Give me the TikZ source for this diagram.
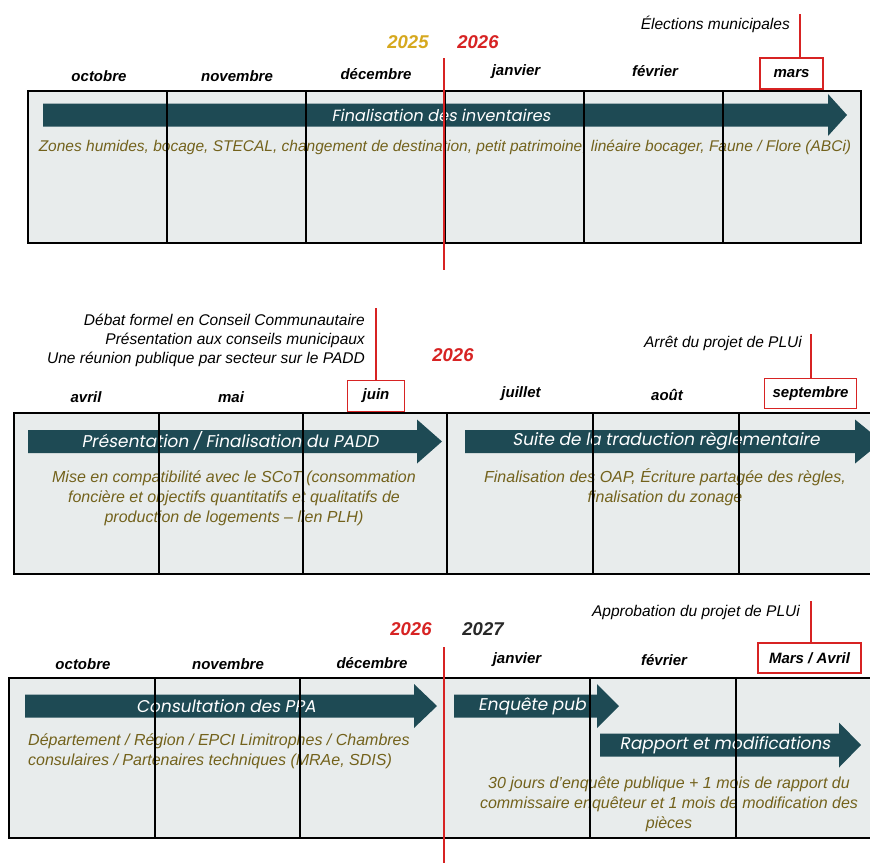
\documentclass[tikz,border=0pt]{standalone}
\usepackage{fontspec}
\setmainfont{Liberation Sans}
\newfontfamily\popfont[FakeSlant=0.18]{Poppins}
\definecolor{tealA}{RGB}{30,74,84}
\definecolor{boxfill}{RGB}{232,236,236}
\definecolor{olivetext}{RGB}{115,98,28}
\definecolor{redA}{RGB}{215,35,35}
\definecolor{goldA}{RGB}{214,168,30}
\definecolor{darkA}{RGB}{40,40,40}
\newcommand\tlarrow[6]{%
  \fill[tealA] ({#1},{#4-#5}) -- ({#2},{#4-#5}) -- ({#2},{#4-#6}) -- ({#3},{#4}) --
    ({#2},{#4+#6}) -- ({#2},{#4+#5}) -- ({#1},{#4+#5}) -- cycle;}
\tikzset{
  month/.style={font=\fontsize{15}{18}\selectfont\bfseries\itshape, inner sep=0pt},
  hlbox/.style={draw=redA, line width=1.6pt, minimum height=30pt, inner sep=0pt},
  note/.style={font=\fontsize{15.5}{19}\selectfont\itshape, inner sep=0pt, anchor=east},
  desc/.style={font=\fontsize{16}{20}\selectfont\itshape, text=olivetext, inner sep=0pt, align=center},
  alabel/.style={font=\popfont\fontsize{17}{19}\selectfont, text=white, inner sep=0pt},
  yearlbl/.style={font=\fontsize{18.5}{20}\selectfont\bfseries\itshape, inner sep=0pt},
  frame/.style={fill=boxfill, draw=black, line width=1.6pt},
  divider/.style={draw=black, line width=1.2pt},
  redline/.style={draw=redA, line width=2.8pt},
  markline/.style={draw=redA, line width=1.8pt}
}
\begin{document}
\begin{tikzpicture}[x=1pt,y=-1pt]
\useasboundingbox (0,0) rectangle (870,863);
\clip (0,0) rectangle (870,863);
\fill[white] (0,0) rectangle (870,863);

% ===================== Section 1 =====================
\draw[frame] (28,91) rectangle (861,243);
\tlarrow{43}{828}{847}{115}{11.5}{21}
\node[alabel, font=\popfont\fontsize{16.2}{19}\selectfont] (a1) at (441,115) {Finalisation des inventaires};
\node[desc, font=\fontsize{15.5}{19}\selectfont\itshape] (d1) at (445,147) {Zones humides, bocage, STECAL, changement de destination, petit patrimoine, linéaire bocager, Faune / Flore (ABCi)};
\foreach \xx in {167,306,445,584,723} \draw[divider] (\xx,91) -- (\xx,243);

\node[yearlbl, text=goldA] (y1a) at (408,42) {2025};
\node[yearlbl, text=redA] (y1b) at (478,42) {2026};
\node[month] (m1a) at (99,76) {octobre};
\node[month] (m1b) at (237,76) {novembre};
\node[month] (m1c) at (376,74) {décembre};
\node[month] (m1d) at (516,72) {janvier};
\node[month] (m1e) at (655,71) {février};
\node[month, hlbox, minimum width=63pt, minimum height=31pt] (m1f) at (791.5,73.5) {mars};
\node[note] (n1) at (790,24) {Élections municipales};
\coordinate (c1) at (800,14);
\draw[markline] (c1) -- (m1f.north -| c1);
\coordinate (r1t) at (444,58);
\coordinate (r1b) at (444,270);
\draw[redline] (r1t) -- (r1b);

% ===================== Section 2 =====================
\draw[frame] (14,413) rectangle (884,574);
\tlarrow{28}{417}{442}{441.5}{11.5}{22}
\tlarrow{465}{855}{882}{441.5}{11.5}{22}
\node[alabel] (a2a) at (230,441) {Présentation / Finalisation du PADD};
\node[alabel] (a2b) at (666,441) {Suite de la traduction règlementaire};
\node[desc] (d2a) at (234,498) {Mise en compatibilité avec le SCoT (consommation\\foncière et objectifs quantitatifs et qualitatifs de\\production de logements – lien PLH)};
\node[desc] (d2b) at (665,487) {Finalisation des OAP, Écriture partagée des règles,\\finalisation du zonage};
\foreach \xx in {159,303,447,593,739} \draw[divider] (\xx,413) -- (\xx,574);

\node[note] (n2a) at (365,320) {Débat formel en Conseil Communautaire};
\node[note] (n2b) at (365,340) {Présentation aux conseils municipaux};
\node[note] (n2c) at (365,359) {Une réunion publique par secteur sur le PADD};
\node[yearlbl, text=redA] (y2) at (453,355) {2026};
\node[note] (n2d) at (802,343) {Arrêt du projet de PLUi};
\node[month] (m2a) at (86,397) {avril};
\node[month] (m2b) at (231,397) {mai};
\node[month, hlbox, minimum width=57pt, minimum height=31pt] (m2c) at (376,396) {juin};
\node[month] (m2d) at (521,394) {juillet};
\node[month] (m2e) at (667,395) {août};
\node[month, hlbox, minimum width=92pt, minimum height=30pt] (m2f) at (810.5,393.5) {septembre};
\coordinate (c2a) at (376,308);
\draw[markline] (c2a) -- (m2c.north);
\coordinate (c2b) at (811,334);
\draw[markline] (c2b) -- (m2f.north -| c2b);

% ===================== Section 3 =====================
\draw[frame] (9,678) rectangle (885,838);
\tlarrow{25}{414}{437}{706}{11.5}{22}
\tlarrow{454}{597}{619}{706}{11.5}{22}
\tlarrow{600}{839}{861}{745}{11.5}{22.5}
\node[alabel] (a3a) at (226,706) {Consultation des PPA};
\node[alabel] (a3b) at (532,706) {Enquête pub};
\node[alabel] (a3c) at (725,745) {Rapport et modifications};
\node[desc, align=left, anchor=west] (d3a) at (28,751) {Département / Région / EPCI Limitrophes / Chambres\\consulaires / Partenaires techniques (MRAe, SDIS)};
\node[desc] (d3b) at (669,804) {30 jours d'enquête publique + 1 mois de rapport du\\commissaire enquêteur et 1 mois de modification des\\pièces};
\foreach \xx in {155,300,444,590,736} \draw[divider] (\xx,678) -- (\xx,838);

\node[yearlbl, text=redA] (y3a) at (411,629) {2026};
\node[yearlbl, text=darkA] (y3b) at (483,629) {2027};
\node[note] (n3) at (800,612) {Approbation du projet de PLUi};
\node[month] (m3a) at (83,664) {octobre};
\node[month] (m3b) at (228,664) {novembre};
\node[month] (m3c) at (372,663) {décembre};
\node[month] (m3d) at (517,660) {janvier};
\node[month] (m3e) at (664,660) {février};
\node[month, hlbox, minimum width=103pt, minimum height=30pt] (m3f) at (809.5,658) {Mars / Avril};
\coordinate (c3) at (811,601);
\draw[markline] (c3) -- (m3f.north -| c3);
\coordinate (r3t) at (444,647);
\coordinate (r3b) at (444,863);
\draw[redline] (r3t) -- (r3b);
\end{tikzpicture}
\end{document}
